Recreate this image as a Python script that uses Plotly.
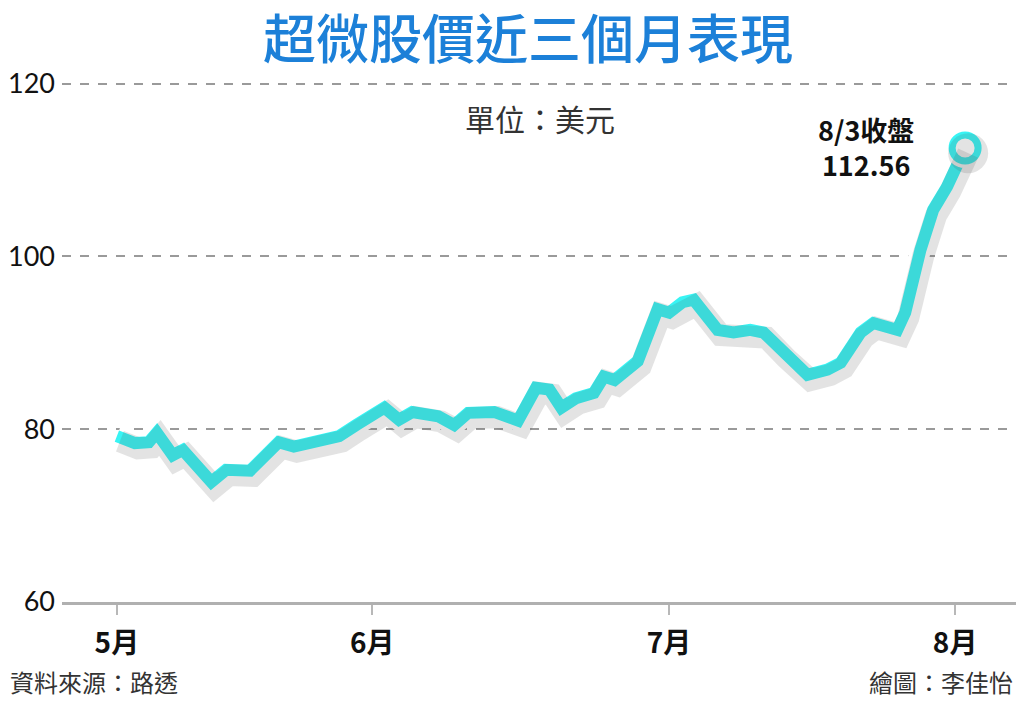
import plotly.graph_objects as go

# AMD close (USD), x = trading-day position from 5/3
days = [0.0, 1.35, 2.4, 3.0, 4.2, 4.95, 7.1, 8.2, 10.0, 12.15, 13.3, 16.7, 18.0,
        20.1, 21.2, 22.2, 24.15, 25.35, 26.4, 28.35, 30.15, 31.5, 32.5, 33.4,
        34.5, 35.85, 36.6, 37.4, 39.15, 40.65, 41.5, 42.5, 43.35, 45.15, 46.35,
        47.6, 48.6, 50.1, 51.9, 53.4, 54.4, 55.9, 56.85, 58.65, 59.25, 60.4,
        61.35, 62.4, 63.75]
prices = [79.2, 78.4, 78.5, 79.6, 77.0, 77.6, 73.9, 75.3, 75.2, 78.5, 78.0, 79.2,
          80.5, 82.5, 81.1, 82.0, 81.5, 80.5, 81.9, 82.0, 81.0, 84.8, 84.6, 82.5,
          83.6, 84.2, 86.1, 85.7, 87.9, 93.9, 93.5, 94.7, 95.0, 91.5, 91.2, 91.5,
          91.2, 88.8, 86.3, 86.9, 87.7, 91.2, 92.3, 91.5, 93.5, 100.8, 105.4,
          108.1, 112.56]

month_pos = [0, 19.2, 41.5, 63.0]
month_labels = ['5月', '6月', '7月', '8月']
y_ticks = [60, 80, 100, 120]

CYAN = '#38F4F4'
FONT = 'Noto Sans CJK TC'

x_range = [-4.125, 67.575]
y_range = [60, 120.2]

# page has an 8px body margin, so the figure is sized/positioned to compensate
W, H = 1008, 687
L, T, B, R = 52, 74, 93, 0
PW, PH = W - L - R, H - T - B


def px(wx):
    return (wx - 8 - L) / PW


def py(wy):
    return (H - B - (wy - 8)) / PH


fig = go.Figure()

# soft drop shadow on an overlaid, slightly shifted axis pair
fig.add_trace(go.Scatter(
    x=days, y=prices, mode='lines', xaxis='x2', yaxis='y2',
    line=dict(color='rgba(80,80,80,0.16)', width=22), hoverinfo='skip'
))
fig.add_trace(go.Scatter(
    x=[days[-1]], y=[prices[-1]], mode='markers', xaxis='x2', yaxis='y2',
    marker=dict(size=40, color='rgba(80,80,80,0.16)'), hoverinfo='skip'
))
fig.add_trace(go.Scatter(
    x=days, y=prices, mode='lines',
    line=dict(color='white', width=21), hoverinfo='skip'
))
fig.add_trace(go.Scatter(
    x=days, y=prices, mode='lines',
    line=dict(color=CYAN, width=12)
))
fig.add_trace(go.Scatter(
    x=[days[-1]], y=[prices[-1]], mode='markers',
    marker=dict(size=40, color='white'), hoverinfo='skip'
))
fig.add_trace(go.Scatter(
    x=[days[-1]], y=[prices[-1]], mode='markers',
    marker=dict(size=26, color='white', line=dict(color=CYAN, width=7))
))

fig.update_layout(
    width=W, height=H,
    margin=dict(l=L, r=R, t=T, b=B),
    paper_bgcolor='white', plot_bgcolor='white',
    showlegend=False,
    font=dict(family=FONT, color='#111'),
    xaxis=dict(
        range=x_range, tickvals=month_pos, ticktext=month_labels,
        showgrid=False, zeroline=False,
        showline=True, linecolor='#b0b0b0', linewidth=3,
        ticks='outside', ticklen=10, tickwidth=2, tickcolor='#b8b8b8',
        ticklabelstandoff=4,
        tickfont=dict(family=FONT, size=28, color='#111', weight=600),
    ),
    yaxis=dict(
        range=y_range, tickvals=y_ticks,
        showgrid=True, gridcolor='#9a9a9a', griddash='dash', gridwidth=1.5,
        zeroline=False, showline=False, ticks='',
        ticklabelstandoff=6,
        tickfont=dict(family='Lato', size=27, color='#111'),
    ),
    xaxis2=dict(range=[x_range[0] - 0.23, x_range[1] - 0.23], overlaying='x',
                visible=False),
    yaxis2=dict(range=[y_range[0] + 0.6, y_range[1] + 0.6], overlaying='y',
                visible=False),
)

fig.add_annotation(
    text='超微股價近三個月表現', xref='paper', yref='paper',
    x=px(527), y=py(36), showarrow=False,
    font=dict(family=FONT, size=53, color='#1C80D8', weight=500),
    xanchor='center', yanchor='middle'
)
fig.add_annotation(
    text='單位：美元', xref='paper', yref='paper',
    x=px(539), y=py(118), showarrow=False,
    font=dict(family=FONT, size=30, color='#333'),
    xanchor='center', yanchor='middle'
)
fig.add_annotation(
    text='8/3收盤<br>112.56', xref='paper', yref='paper',
    x=px(866), y=py(147), showarrow=False,
    font=dict(family=FONT, size=27, color='#111', weight=700),
    xanchor='center', yanchor='middle', align='center'
)
fig.add_annotation(
    text='資料來源：路透', xref='paper', yref='paper',
    x=px(6), y=py(681), showarrow=False,
    font=dict(family=FONT, size=24, color='#333'),
    xanchor='left', yanchor='middle'
)
fig.add_annotation(
    text='繪圖：李佳怡', xref='paper', yref='paper',
    x=px(1015), y=py(681), showarrow=False,
    font=dict(family=FONT, size=24, color='#333'),
    xanchor='right', yanchor='middle'
)

fig.write_html("out.html")
